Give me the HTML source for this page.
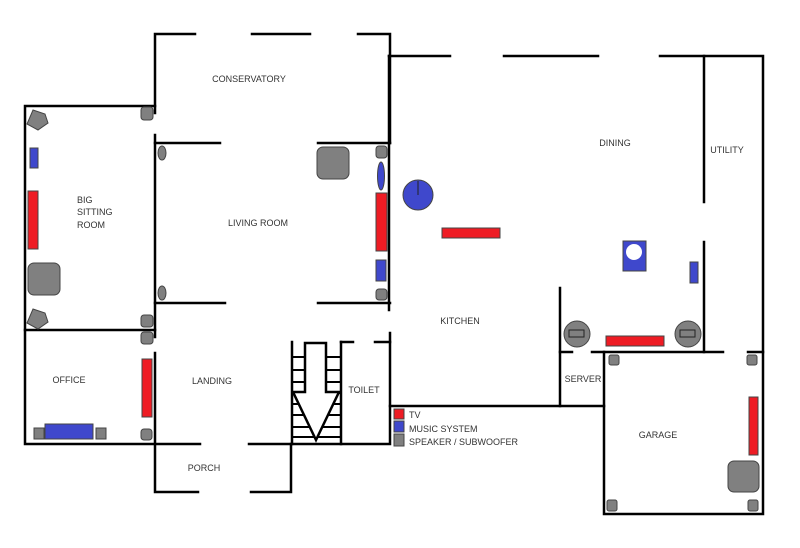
<!DOCTYPE html>
<html><head><meta charset="utf-8"><style>
html,body{margin:0;padding:0;background:#fff;}
svg{display:block}
text{font-family:"Liberation Sans",sans-serif;font-size:9px;fill:#333;}
</style></head><body>
<svg width="800" height="548" viewBox="0 0 800 548" xmlns="http://www.w3.org/2000/svg">
<g stroke="#000" stroke-width="2.5" fill="none" stroke-linecap="square">
<!-- conservatory -->
<path d="M195 34H155V113"/><path d="M252 34H310"/><path d="M358 34H390V143"/>
<!-- big sitting room -->
<path d="M155 106H25V444H200"/><path d="M25 330H155"/>
<path d="M155 135V337"/><path d="M155 353V492H198"/><path d="M251 492H291V444"/>
<!-- living room -->
<path d="M155 143H220"/><path d="M318 143H390"/>
<path d="M155 303H225"/><path d="M318 303H390"/>
<!-- kitchen -->
<path d="M389 56V310"/><path d="M389 56H450"/><path d="M504 56H598"/><path d="M660 56H763V514H604V352"/>
<path d="M704 56V202"/><path d="M704 242V352"/>
<path d="M560 288V406"/><path d="M560 352H572"/><path d="M592 352H723"/><path d="M748 352H763"/>
<path d="M390 333V444H249"/><path d="M390 406H604"/>
<!-- stairs/toilet -->
<path d="M292 342V444"/><path d="M341 342V444"/><path d="M341 342H353"/><path d="M375 342H390"/>
</g>
<g stroke="#000" stroke-width="2">
<line x1="292" y1="357" x2="341" y2="357"/><line x1="292" y1="370" x2="341" y2="370"/>
<line x1="292" y1="382" x2="341" y2="382"/><line x1="292" y1="393" x2="341" y2="393"/>
<line x1="292" y1="404" x2="341" y2="404"/><line x1="292" y1="415" x2="341" y2="415"/>
<line x1="292" y1="427" x2="341" y2="427"/><line x1="292" y1="437" x2="341" y2="437"/>
</g>
<path d="M305 343H326V392H339L316 440L293 392H305Z" fill="#fff" stroke="#000" stroke-width="2.5"/>
<!-- devices -->
<g stroke="#444" stroke-width="1">
<g fill="#808080">
<polygon points="33,110 45,114 48,123 38,130 27,124"/>
<polygon points="33,309 45,313 48,322 38,329 27,323"/>
<rect x="141" y="107" width="12" height="13" rx="3"/>
<rect x="141" y="315" width="12" height="12" rx="3"/>
<rect x="141" y="332" width="12" height="12" rx="3"/>
<rect x="28" y="263" width="32" height="32" rx="6"/>
<ellipse cx="162" cy="153" rx="4" ry="7"/><ellipse cx="162" cy="293" rx="4" ry="7"/>
<rect x="317" y="147" width="32" height="32" rx="6"/>
<rect x="376" y="146" width="11" height="12" rx="3"/>
<rect x="376" y="289" width="11" height="11" rx="3"/>
<circle cx="577" cy="334" r="13"/><circle cx="688" cy="334" r="13"/>
<rect x="609" y="355" width="10" height="10" rx="2"/><rect x="747" y="355" width="10" height="10" rx="2"/>
<rect x="607" y="500" width="10" height="11" rx="2"/><rect x="748" y="500" width="10" height="11" rx="2"/>
<rect x="728" y="461" width="31" height="31" rx="6"/>
<rect x="141" y="429" width="11" height="11" rx="3"/>
<rect x="34" y="428" width="10" height="11"/><rect x="96" y="428" width="10" height="11"/>
<rect x="394" y="434" width="10" height="12"/>
</g>
<g fill="#808080" stroke="#222"><rect x="569" y="330" width="15" height="7"/><rect x="680" y="330" width="15" height="7"/></g>
<g fill="#ee1c24">
<rect x="28" y="191" width="10" height="58"/><rect x="376" y="193" width="11" height="58"/>
<rect x="442" y="228" width="58" height="10"/><rect x="606" y="336" width="58" height="10"/>
<rect x="749" y="397" width="9" height="58"/><rect x="142" y="359" width="10" height="58"/>
<rect x="394" y="409" width="10" height="10"/>
</g>
<g fill="#3f48cc">
<rect x="30" y="148" width="8" height="20"/><ellipse cx="381" cy="176" rx="3.5" ry="14"/>
<rect x="376" y="260" width="10" height="21"/>
<circle cx="418" cy="195" r="15"/>
<rect x="623" y="241" width="23" height="30"/><rect x="690" y="262" width="8" height="21"/>
<rect x="45" y="424" width="48" height="15"/>
<rect x="394" y="421" width="10" height="11"/>
</g>
</g>
<line x1="418" y1="195" x2="418" y2="181" stroke="#222" stroke-width="1"/>
<circle cx="634" cy="252" r="8" fill="#fff"/>
<!-- labels -->
<text x="249" y="82" text-anchor="middle">CONSERVATORY</text>
<text x="77" y="203">BIG</text><text x="77" y="215">SITTING</text><text x="77" y="228">ROOM</text>
<text x="258" y="226" text-anchor="middle">LIVING ROOM</text>
<text x="615" y="146" text-anchor="middle">DINING</text>
<text x="727" y="153" text-anchor="middle">UTILITY</text>
<text x="460" y="324" text-anchor="middle">KITCHEN</text>
<text x="69" y="383" text-anchor="middle">OFFICE</text>
<text x="212" y="384" text-anchor="middle">LANDING</text>
<text x="364" y="393" text-anchor="middle">TOILET</text>
<text x="204" y="471" text-anchor="middle">PORCH</text>
<text x="583" y="382" text-anchor="middle">SERVER</text>
<text x="658" y="438" text-anchor="middle">GARAGE</text>
<text x="409" y="418">TV</text>
<text x="409" y="432">MUSIC SYSTEM</text>
<text x="409" y="445">SPEAKER / SUBWOOFER</text>
</svg>
</body></html>
